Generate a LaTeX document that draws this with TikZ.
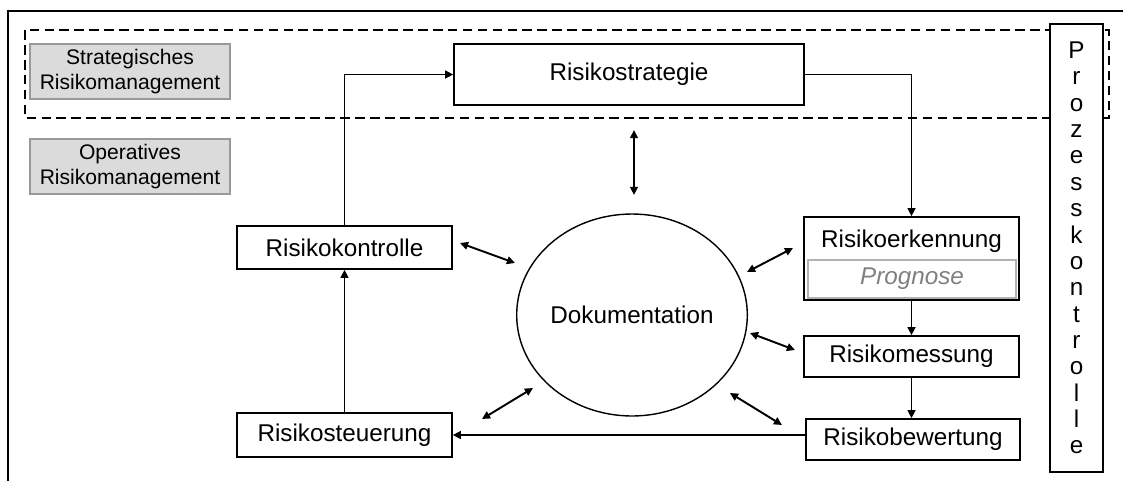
\documentclass[tikz,border=0pt]{standalone}
\usepackage{fontspec}
\setmainfont{Liberation Sans}
\usetikzlibrary{shapes,arrows.meta}

\begin{document}
\begin{tikzpicture}[x=0.02cm,y=-0.02cm,
  box/.style={shape=rectangle,draw=black,fill=white,line width=0.85pt,inner sep=0pt,align=center,font=\fontsize{13.8}{16}\selectfont},
  level/.style={shape=rectangle,draw=gray!80,fill=gray!28,line width=0.7pt,inner sep=0pt,align=center,minimum width=4cm,minimum height=1.1cm,font=\fontsize{12}{14.7}\selectfont},
  flow/.style={-{Triangle[length=4.6pt,width=4.4pt]},draw=black,line width=1.1pt},
  link/.style={{Triangle[length=4.6pt,width=4.4pt]}-{Triangle[length=4.6pt,width=4.4pt]},draw=black,line width=1.1pt}]
\useasboundingbox (0,0) rectangle (1123,481);
\draw[line width=1.5pt] (8,481) -- (8,11) -- (1123,11);
\draw[dash pattern=on 5.5pt off 3pt,line width=0.85pt] (25,30) rectangle (1109,118);

\node[level] (strat) at (130,71.5) {Strategisches\\Risikomanagement};
\node[level] (oper) at (130,166.5) {Operatives\\Risikomanagement};
\node[box,minimum width=7cm,minimum height=1.22cm] (strategie) at (629,74.5) {Risikostrategie};
\node[box,minimum width=4.3cm,minimum height=0.86cm] (kontrolle) at (344.5,247.5) {Risikokontrolle};
\node[box,minimum width=4.3cm,minimum height=0.88cm] (steuerung) at (344.5,435) {Risikosteuerung};
\node[box,minimum width=4.3cm,minimum height=1.66cm] (erkennung) at (911.5,258.5) {};
\node[font=\fontsize{13.8}{16}\selectfont,inner sep=0pt] (erkennungtitel) at (911.5,241) {Risikoerkennung};
\node[shape=rectangle,draw=gray!60,line width=0.7pt,text=gray,inner sep=0pt,minimum width=4.16cm,minimum height=0.76cm,font=\fontsize{13.8}{16}\selectfont\itshape] (prognose) at (912,279) {Prognose};
\node[box,minimum width=4.3cm,minimum height=0.82cm] (messung) at (911.5,356.5) {Risikomessung};
\node[box,minimum width=4.28cm,minimum height=0.82cm] (bewertung) at (913,439.5) {Risikobewertung};
\node[box,minimum width=1.06cm,minimum height=8.96cm,font=\fontsize{13.8}{15}\selectfont] (prozess) at (1076.5,248) {P\\r\\o\\z\\e\\s\\s\\k\\o\\n\\t\\r\\o\\l\\l\\e};
\node[shape=ellipse,draw=black,line width=0.8pt,inner sep=0pt,minimum width=4.36cm,minimum height=4.04cm,font=\fontsize{13.8}{16}\selectfont] (doku) at (632,315) {Dokumentation};

\draw[flow] (kontrolle.north) |- (strategie.west);
\draw[flow] (strategie.east) -| (erkennung.north);
\draw[flow] (erkennung.south) -- (messung.north);
\draw[flow] (messung.south) -- (messung.south |- bewertung.north);
\draw[flow] (bewertung.west |- steuerung.east) -- (steuerung.east);
\draw[flow] (steuerung.north) -- (kontrolle.south);

\coordinate (v1) at (634,130);
\coordinate (v2) at (634,195);
\coordinate (k1) at (460,243);
\coordinate (k2) at (515,263);
\coordinate (s1) at (482,419);
\coordinate (s2) at (533,388);
\coordinate (e1) at (793,248);
\coordinate (e2) at (747,272);
\coordinate (m1) at (795,350);
\coordinate (m2) at (750,333);
\coordinate (b1) at (782,425);
\coordinate (b2) at (730,393);
\draw[link] (v1) -- (v2);
\draw[link] (k1) -- (k2);
\draw[link] (s1) -- (s2);
\draw[link] (e1) -- (e2);
\draw[link] (m1) -- (m2);
\draw[link] (b1) -- (b2);
\end{tikzpicture}
\end{document}
